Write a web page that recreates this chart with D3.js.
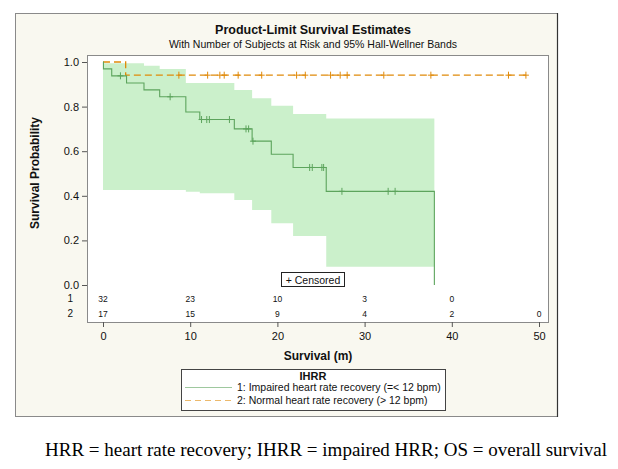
<!DOCTYPE html>
<html><head><meta charset="utf-8">
<script src="https://cdn.jsdelivr.net/npm/d3@7"></script>
<style>
html,body{margin:0;padding:0;background:#fff;}
svg{display:block;font-family:"Liberation Sans",Arial,sans-serif;}
</style></head>
<body><svg id="c" width="618" height="469"></svg>
<script>
// ---------- data ----------
const xTicks = [0, 10, 20, 30, 40, 50];
const yTicks = [0, 0.2, 0.4, 0.6, 0.8, 1.0];
// Group 1: impaired HRR (step times / survival after step)
const g1Times = [0, 0.05, 1.0, 2.7, 4.7, 6.5, 9.5, 11.1, 15.06, 17.1, 19.3, 21.8, 25.6, 38.0];
const g1Surv  = [1.0, 0.969, 0.938, 0.906, 0.875, 0.844, 0.776, 0.742, 0.700, 0.645, 0.586, 0.527, 0.420, 0.0];
const g1Censor = [2.0, 7.7, 11.3, 11.9, 12.2, 14.5, 16.4, 16.7, 17.2, 23.7, 24.0, 25.1, 25.3, 27.4, 32.7, 33.5];
// Hall-Wellner band, group 1
const bandTimes = [0, 4.7, 6.5, 9.5, 11.1, 15.06, 17.1, 19.3, 21.8, 25.6, 38.0];
const bandUpper = [0.994, 0.983, 0.969, 0.906, 0.906, 0.874, 0.837, 0.804, 0.767, 0.747, 0.747];
const bandLower = [0.426, 0.426, 0.426, 0.418, 0.411, 0.381, 0.336, 0.277, 0.220, 0.082, 0.082];
// Group 2: normal HRR
const g2Times = [0, 2.6, 48.5];
const g2Surv  = [1.0, 0.941, 0.941];
const g2Censor = [8.7, 12.0, 13.4, 13.9, 15.5, 18.2, 22.2, 23.2, 26.1, 27.2, 28.0, 32.2, 37.6, 46.5, 48.5];
// Number at risk
const riskTimes = [0, 10, 20, 30, 40, 50];
const risk1 = [32, 23, 10, 3, 0, null];
const risk2 = [17, 15, 9, 4, 2, 0];
const legendLabels = ["1: Impaired heart rate recovery (=< 12 bpm)", "2: Normal heart rate recovery (> 12 bpm)"];

// ---------- drawing ----------
const svg = d3.select("#c");
const green = "#5da45d", orange = "#e08a0a", bandFill = "#cbf0cb";

// outer frame
svg.append("rect").attr("x",15.5).attr("y",13.5).attr("width",542).attr("height",403)
  .attr("fill","#f9f8f0").attr("stroke","#8a8a8a").attr("stroke-width",1);
svg.append("line").attr("x1",557.5).attr("x2",557.5).attr("y1",13).attr("y2",417).attr("stroke","#333").attr("stroke-width",1.2);

// titles
svg.append("text").attr("x",313).attr("y",34).attr("text-anchor","middle")
  .attr("font-size",12.5).attr("font-weight","bold").attr("fill","#111").text("Product-Limit Survival Estimates");
svg.append("text").attr("x",313).attr("y",48).attr("text-anchor","middle")
  .attr("font-size",10.5).attr("fill","#111").text("With Number of Subjects at Risk and 95% Hall-Wellner Bands");

// plot box
const box = {l:87, r:548, t:55, b:322};
svg.append("rect").attr("x",box.l+0.5).attr("y",box.t+0.5).attr("width",box.r-box.l).attr("height",box.b-box.t)
  .attr("fill","#fff").attr("stroke","#8a8a8a").attr("stroke-width",1);

const x = d3.scaleLinear().domain([0,50]).range([103,539]);
const y = d3.scaleLinear().domain([0,1]).range([285,62]);

// band
const band = d3.area().x((d,i)=>x(bandTimes[i])).y0((d,i)=>y(bandLower[i])).y1((d,i)=>y(bandUpper[i]))
  .curve(d3.curveStepAfter);
svg.append("path").datum(bandTimes).attr("d",band).attr("fill",bandFill).attr("stroke","none");

// curves
const line = (T,S)=>d3.line().x((d,i)=>x(T[i])).y((d,i)=>y(S[i])).curve(d3.curveStepAfter)(T);
svg.append("path").attr("d",line(g2Times,g2Surv)).attr("fill","none").attr("stroke",orange)
  .attr("stroke-width",1.3).attr("stroke-dasharray","7,4");
svg.append("path").attr("d",line(g1Times,g1Surv)).attr("fill","none").attr("stroke",green).attr("stroke-width",1.1);

// survival lookup
function survAt(T,S,t){let v=S[0];for(let i=0;i<T.length;i++){if(T[i]<=t)v=S[i];}return v;}
function plus(g,xs,T,S,col){
  g.selectAll(null).data(xs).enter().append("path")
   .attr("d",d=>{const px=x(d),py=y(survAt(T,S,d));return `M${px-3},${py}H${px+3}M${px},${py-3.5}V${py+3.5}`;})
   .attr("stroke",col).attr("stroke-width",1).attr("fill","none");
}
plus(svg,g1Censor,g1Times,g1Surv,green);
plus(svg,g2Censor,g2Times,g2Surv,orange);

// axes
const ya = d3.axisLeft(y).tickValues(yTicks).tickFormat(d3.format(".1f")).tickSize(5).tickSizeOuter(0);
const yg = svg.append("g").attr("transform",`translate(${box.l},0)`).call(ya);
yg.select(".domain").remove();
yg.selectAll("text").attr("font-size",11).attr("fill","#111").attr("font-family","Liberation Sans,Arial,sans-serif");
yg.selectAll("line").attr("stroke","#555");

const xa = d3.axisBottom(x).tickValues(xTicks).tickFormat(d3.format("d")).tickSize(5).tickSizeOuter(0);
const xg = svg.append("g").attr("transform",`translate(0,${box.b})`).call(xa);
xg.select(".domain").remove();
xg.selectAll("text").attr("font-size",11).attr("fill","#111").attr("dy","0.9em").attr("font-family","Liberation Sans,Arial,sans-serif");
xg.selectAll("line").attr("stroke","#555");

// axis titles
svg.append("text").attr("transform","translate(39,173) rotate(-90)").attr("text-anchor","middle")
  .attr("font-size",12).attr("font-weight","bold").attr("fill","#111").text("Survival Probability");
svg.append("text").attr("x",318).attr("y",360).attr("text-anchor","middle")
  .attr("font-size",12).attr("font-weight","bold").attr("fill","#111").text("Survival (m)");

// censored box
svg.append("rect").attr("x",281.5).attr("y",272.5).attr("width",63).attr("height",14)
  .attr("fill","#fff").attr("stroke","#222").attr("stroke-width",1);
svg.append("text").attr("x",313).attr("y",283.5).attr("text-anchor","middle").attr("font-size",10.5)
  .attr("fill","#111").text("+ Censored");

// at-risk rows
[[risk1,"1",302],[risk2,"2",317]].forEach(([arr,lab,yy])=>{
  svg.append("text").attr("x",73).attr("y",yy).attr("text-anchor","end").attr("font-size",10).attr("fill","#111").text(lab);
  svg.selectAll(null).data(riskTimes.map((t,i)=>({t,v:arr[i]})).filter(d=>d.v!==null)).enter().append("text")
    .attr("x",d=>x(d.t)).attr("y",yy).attr("text-anchor","middle").attr("font-size",8.5).attr("fill","#111").text(d=>d.v);
});

// legend
svg.append("rect").attr("x",181.5).attr("y",369.5).attr("width",264).attr("height",41)
  .attr("fill","#fff").attr("stroke","#444").attr("stroke-width",1);
svg.append("text").attr("x",313).attr("y",380).attr("text-anchor","middle").attr("font-size",11)
  .attr("font-weight","bold").attr("fill","#111").text("IHRR");
[[legendLabels[0],green,null,391],[legendLabels[1],orange,"6,4",404]].forEach(([lab,col,dash,yy])=>{
  svg.append("line").attr("x1",185).attr("x2",232).attr("y1",yy-3.5).attr("y2",yy-3.5).attr("stroke",col)
    .attr("stroke-width",1).attr("stroke-opacity",0.6).attr("stroke-dasharray",dash);
  svg.append("text").attr("x",237).attr("y",yy).attr("font-size",10.5).attr("fill","#111").text(lab);
});

// footnote
svg.append("text").attr("x",45).attr("y",456).attr("font-family","Liberation Serif,Times New Roman,serif")
  .attr("font-size",19).attr("fill","#000").text("HRR = heart rate recovery; IHRR = impaired HRR; OS = overall survival");
</script>
</body></html>
